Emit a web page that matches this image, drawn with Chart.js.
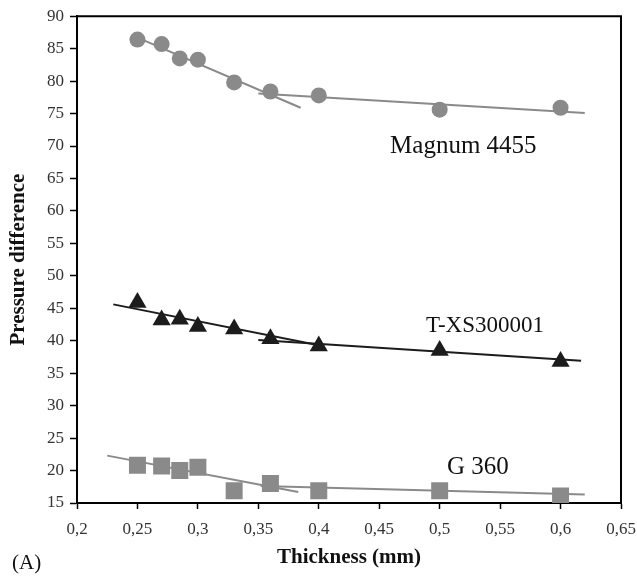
<!DOCTYPE html>
<html>
<head>
<meta charset="utf-8">
<script src="https://cdn.jsdelivr.net/npm/chart.js@4.4.1/dist/chart.umd.min.js"></script>
<style>
  html, body { margin: 0; padding: 0; background: #fff; }
  #wrap { width: 637px; height: 576px; }
</style>
</head>
<body>
<div id="wrap"><canvas id="chart" width="637" height="576"></canvas></div>
<script>
// thickness (mm) of the samples
const thickness = [0.25, 0.27, 0.285, 0.3, 0.33, 0.36, 0.4, 0.5, 0.6];

// pressure difference per membrane
const magnum = [86.4, 85.7, 83.5, 83.3, 79.8, 78.4, 77.8, 75.6, 75.9];
const txs = [45.9, 43.2, 43.3, 42.2, 41.8, 40.3, 39.2, 38.5, 36.8];
const g360 = [20.8, 20.7, 20.0, 20.5, 16.9, 18.0, 16.9, 16.9, 16.1];

// fitted trend segments [x, y]
const magnumFitA = [[0.25, 86.7], [0.385, 75.9]];
const magnumFitB = [[0.35, 78.1], [0.62, 75.1]];
const txsFitA = [[0.23, 45.6], [0.40, 39.3]];
const txsFitB = [[0.35, 40.1], [0.617, 36.9]];
const g360FitA = [[0.225, 22.3], [0.383, 16.7]];
const g360FitB = [[0.352, 17.6], [0.62, 16.3]];

// series labels, anchored at [x, y] in data units (left, baseline)
const seriesLabels = [
  { text: "Magnum 4455", at: [0.459, 68.95], size: 25 },
  { text: "T-XS300001", at: [0.4887, 41.28], size: 23 },
  { text: "G 360", at: [0.506, 19.46], size: 25 },
];

const grey = "#8a8a8a";
const dark = "#1c1c1c";
const serif = "'Liberation Serif', 'Times New Roman', serif";

function pts(ys) {
  return thickness.map((x, i) => ({ x: x, y: ys[i] }));
}
function seg(s) {
  return s.map((p) => ({ x: p[0], y: p[1] }));
}
function fitLine(s, color) {
  return {
    type: "line",
    data: seg(s),
    borderColor: color,
    borderWidth: 2,
    pointRadius: 0,
    fill: false,
    tension: 0,
  };
}
function fmt(v) {
  return v.toFixed(2).replace(/0+$/, "").replace(/\.$/, "").replace(".", ",");
}

const extras = {
  id: "extras",
  afterDraw(chart) {
    const { ctx, chartArea, scales } = chart;
    ctx.save();
    // top + right frame
    ctx.strokeStyle = "#000";
    ctx.lineWidth = 2;
    ctx.beginPath();
    ctx.moveTo(chartArea.left, chartArea.top);
    ctx.lineTo(chartArea.right, chartArea.top);
    ctx.lineTo(chartArea.right, chartArea.bottom);
    ctx.stroke();
    // series names
    ctx.fillStyle = "#111";
    ctx.textAlign = "left";
    ctx.textBaseline = "alphabetic";
    seriesLabels.forEach((l) => {
      ctx.font = l.size + "px " + serif;
      ctx.fillText(l.text, scales.x.getPixelForValue(l.at[0]), scales.y.getPixelForValue(l.at[1]));
    });
    // panel tag
    ctx.font = "21px " + serif;
    ctx.fillText("(A)", 12, 569);
    ctx.restore();
  },
};

new Chart(document.getElementById("chart"), {
  type: "scatter",
  data: {
    datasets: [
      { data: pts(magnum), pointStyle: "circle", pointRadius: 8, backgroundColor: grey, borderColor: grey, borderWidth: 0 },
      { data: pts(txs), pointStyle: "triangle", pointRadius: 10.5, backgroundColor: dark, borderColor: dark, borderWidth: 0 },
      { data: pts(g360), pointStyle: "rect", pointRadius: 12, backgroundColor: grey, borderColor: grey, borderWidth: 0 },
      fitLine(magnumFitA, grey),
      fitLine(magnumFitB, grey),
      fitLine(txsFitA, dark),
      fitLine(txsFitB, dark),
      fitLine(g360FitA, grey),
      fitLine(g360FitB, grey),
    ],
  },
  options: {
    responsive: false,
    animation: false,
    layout: { padding: { top: 15, right: 16, left: 0, bottom: 0 } },
    plugins: {
      legend: { display: false },
      tooltip: { enabled: false },
    },
    scales: {
      x: {
        type: "linear",
        min: 0.2,
        max: 0.65,
        afterFit: (s) => {
          s.height = 73;
          s.paddingLeft = 0;
          s.paddingRight = 0;
        },
        afterBuildTicks: (s) => {
          s.ticks = [];
          for (let i = 0; i <= 9; i++) s.ticks.push({ value: 0.2 + i * 0.05 });
        },
        ticks: {
          color: "#333",
          font: { family: serif, size: 17 },
          padding: 10,
          maxRotation: 0,
          autoSkip: false,
          callback: (v) => fmt(v),
        },
        grid: { drawOnChartArea: false, tickLength: 6, color: "#000", tickWidth: 1.5 },
        border: { display: true, color: "#000", width: 2 },
        title: {
          display: true,
          text: "Thickness (mm)",
          color: "#111",
          font: { family: serif, size: 21, weight: "bold" },
          padding: { top: 0, bottom: 6 },
        },
      },
      y: {
        type: "linear",
        min: 15,
        max: 90,
        afterFit: (s) => { s.width = 77; },
        ticks: {
          stepSize: 5,
          color: "#333",
          font: { family: serif, size: 17 },
          padding: 6,
        },
        grid: { drawOnChartArea: false, tickLength: 7, color: "#000", tickWidth: 1.5 },
        border: { display: true, color: "#000", width: 2 },
        title: {
          display: true,
          text: "Pressure difference",
          color: "#111",
          font: { family: serif, size: 21, weight: "bold" },
          padding: { top: 6, bottom: 0 },
        },
      },
    },
  },
  plugins: [extras],
});
</script>
</body>
</html>
